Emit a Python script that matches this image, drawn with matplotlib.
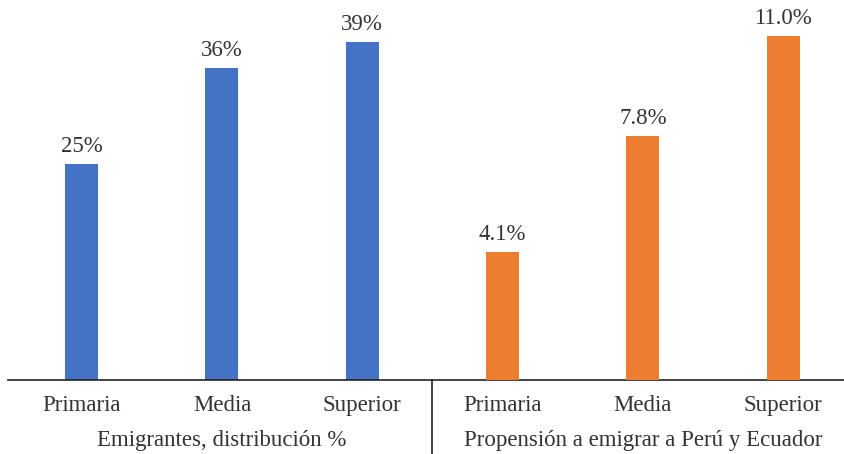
import numpy as np
import matplotlib.pyplot as plt

plt.rcParams['font.family'] = ['Liberation Serif', 'DejaVu Serif']

niveles = ['Primaria', 'Media', 'Superior']
emigrantes = [25, 36, 39]          # distribución %
propension = [4.1, 7.8, 11.0]      # % que emigra a Perú y Ecuador
grupos = ['Emigrantes, distribución %', 'Propensión a emigrar a Perú y Ecuador']

AZUL = '#4472C4'
NARANJA = '#ED7D31'
TEXTO = '#333333'
FS = 16.5

fig = plt.figure(figsize=(8.45, 4.54), dpi=100)
ax = fig.add_axes([8 / 845, 1 - 380 / 454, 837 / 845, 380 / 454])
ax2 = ax.twinx()

x_izq = np.arange(3)
x_der = np.arange(3) + 3
ancho = 0.235

b1 = ax.bar(x_izq, emigrantes, width=ancho, color=AZUL)
b2 = ax2.bar(x_der, propension, width=ancho, color=NARANJA)

ax.set_ylim(0, 380 / 8.66)
ax2.set_ylim(0, 380 / 31.3)
ax.set_xlim(-0.525, 5.44)

for a in (ax, ax2):
    for s in ('top', 'right', 'left'):
        a.spines[s].set_visible(False)
    a.set_yticks([])
ax2.spines['bottom'].set_visible(False)
ax.spines['bottom'].set_color('#222222')
ax.spines['bottom'].set_linewidth(1.2)

ax.bar_label(b1, labels=[f'{v:.0f}%' for v in emigrantes], padding=5,
             fontsize=FS, color=TEXTO)
ax2.bar_label(b2, labels=[f'{v:.1f}%' for v in propension], padding=5,
              fontsize=FS, color=TEXTO)

ax.set_xticks(np.arange(6))
ax.set_xticklabels(niveles + niveles, fontsize=FS, color=TEXTO)
ax.tick_params(axis='x', length=0, pad=11)

# etiquetas de grupo y separador bajo el eje
trans = ax.get_xaxis_transform()
ax.text(1, -0.158, grupos[0], transform=trans, ha='center', va='center',
        fontsize=FS, color=TEXTO)
ax.text(4, -0.158, grupos[1], transform=trans, ha='center', va='center',
        fontsize=FS, color=TEXTO)
ax.plot([2.5, 2.5], [0, -0.2], transform=trans, color='#222222',
        lw=1.2, clip_on=False)

fig.savefig('out.png', dpi=100)
